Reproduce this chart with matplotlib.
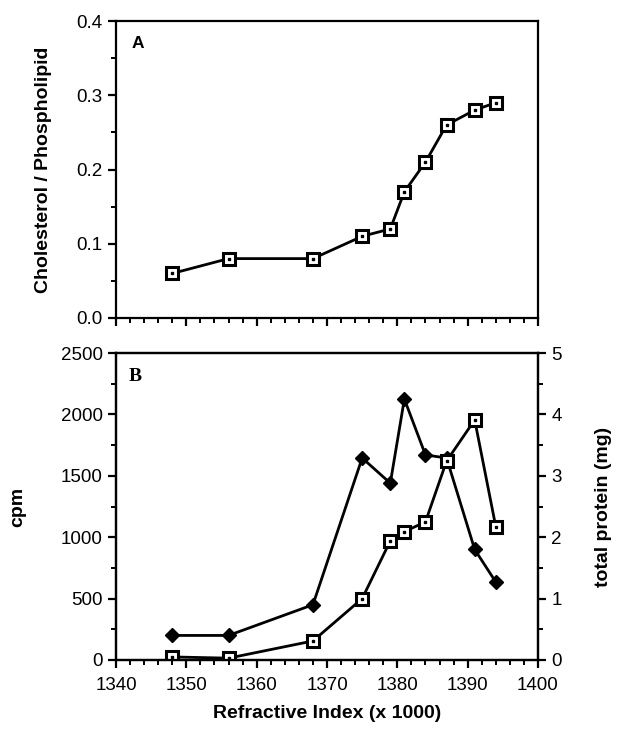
import matplotlib
matplotlib.use("Agg")
import matplotlib.pyplot as plt
from matplotlib.ticker import MultipleLocator

plt.rcParams['font.family'] = ['Liberation Sans', 'DejaVu Sans']

# Panel A data
ri_a = [1348, 1356, 1368, 1375, 1379, 1381, 1384, 1387, 1391, 1394]
chol_pl = [0.06, 0.08, 0.08, 0.11, 0.12, 0.17, 0.21, 0.26, 0.28, 0.29]

# Panel B data
ri_b = [1348, 1356, 1368, 1375, 1379, 1381, 1384, 1387, 1391, 1394]
cpm = [200, 200, 450, 1645, 1440, 2125, 1670, 1645, 900, 635]
protein = [0.05, 0.03, 0.31, 1.0, 1.94, 2.09, 2.25, 3.24, 3.91, 2.17]

x_ticks = [1340, 1350, 1360, 1370, 1380, 1390, 1400]

fig = plt.figure(figsize=(6.21, 7.33), dpi=100)
W, H = 621, 733
axA = fig.add_axes([116 / W, 1 - 318 / H, 422 / W, 297 / H])
axB = fig.add_axes([116 / W, 1 - 660 / H, 422 / W, 307 / H])

lw = 2.0
sq = dict(marker='s', markersize=8, markerfacecolor='white', markeredgecolor='black',
          markeredgewidth=2.2, color='black', linewidth=lw)

def centre_dots(ax, xs, ys):
    ax.plot(xs, ys, linestyle='none', marker='s', markersize=1.5, color='black', zorder=5)

LAB = 14
TICK = 13.5

# Panel A
axA.plot(ri_a, chol_pl, **sq)
centre_dots(axA, ri_a, chol_pl)
axA.set_xlim(1340, 1400)
axA.set_ylim(0.0, 0.4)
axA.set_yticks([0.0, 0.1, 0.2, 0.3, 0.4])
axA.set_yticklabels(['0.0', '0.1', '0.2', '0.3', '0.4'])
axA.yaxis.set_minor_locator(MultipleLocator(0.05))
axA.set_xticks(x_ticks)
axA.xaxis.set_minor_locator(MultipleLocator(2))
axA.tick_params(axis='x', labelbottom=False)
axA.set_ylabel('Cholesterol / Phospholipid', fontsize=LAB, fontweight='bold', labelpad=18)
axA.text(0.038, 0.925, 'A', transform=axA.transAxes, fontsize=12.5, fontweight='bold', va='center')

# Panel B
axB.plot(ri_b, cpm, color='black', linewidth=lw, marker='D', markersize=7.5,
         markerfacecolor='black', markeredgecolor='black')
axB.set_xlim(1340, 1400)
axB.set_ylim(0, 2500)
axB.set_yticks([0, 500, 1000, 1500, 2000, 2500])
axB.yaxis.set_minor_locator(MultipleLocator(250))
axB.set_xticks(x_ticks)
axB.xaxis.set_minor_locator(MultipleLocator(2))
axB.set_ylabel('cpm', fontsize=LAB, fontweight='bold', labelpad=25)
axB.set_xlabel('Refractive Index (x 1000)', fontsize=LAB, fontweight='bold', labelpad=8)
axB.text(0.03, 0.925, 'B', transform=axB.transAxes, fontsize=14, fontweight='bold',
         va='center', family=['Liberation Serif', 'DejaVu Serif'])

axR = axB.twinx()
axR.plot(ri_b, protein, **sq)
centre_dots(axR, ri_b, protein)
axR.set_ylim(0, 5)
axR.set_yticks([0, 1, 2, 3, 4, 5])
axR.yaxis.set_minor_locator(MultipleLocator(0.5))
axR.set_ylabel('total protein (mg)', fontsize=LAB, fontweight='bold', labelpad=24)

for ax in (axA, axB, axR):
    for s in ax.spines.values():
        s.set_linewidth(1.6)
    ax.tick_params(which='major', direction='out', length=6, width=1.6, labelsize=TICK)
    ax.tick_params(which='minor', direction='out', length=3.5, width=1.4)

axB.tick_params(axis='x', which='major', pad=6)
axA.tick_params(axis='both', which='both', top=False, right=False)
axB.tick_params(axis='both', which='both', top=False, right=False)

fig.savefig('out.png', dpi=100)
